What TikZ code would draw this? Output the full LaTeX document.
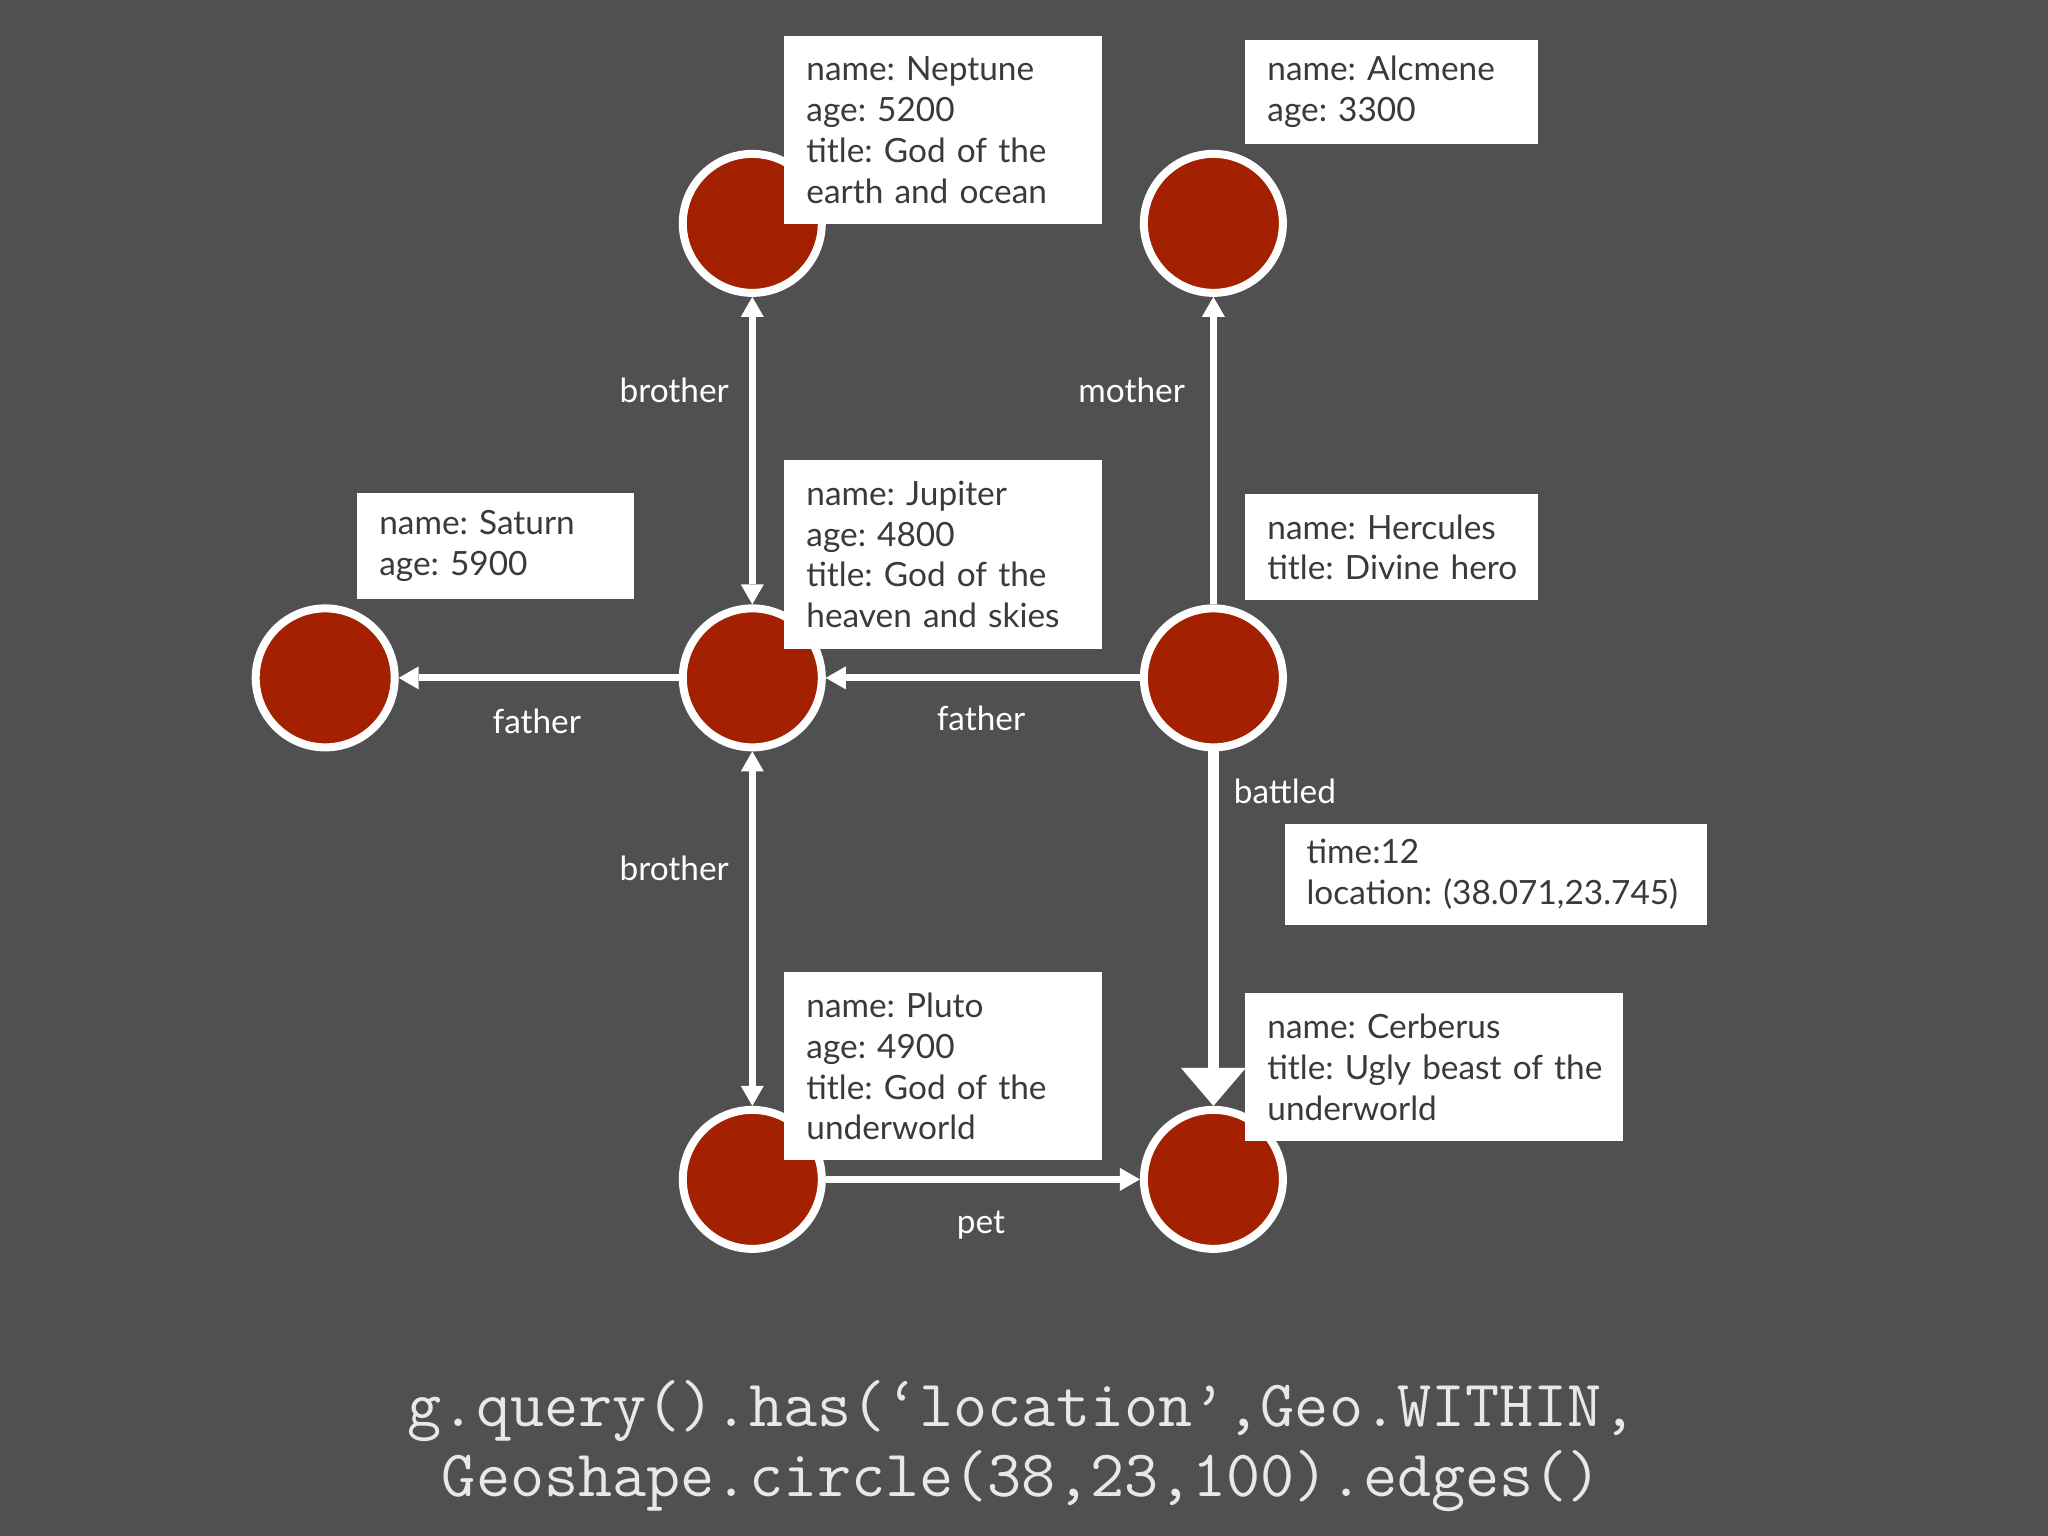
\documentclass[tikz,border=0pt]{standalone}
\usepackage{fontspec}
\setmainfont{Lato}
\usepackage{xcolor}
\usepackage{tikz}
\usetikzlibrary{arrows.meta}

\definecolor{fondo}{RGB}{80,80,82}
\definecolor{rojo}{RGB}{163,32,0}
\definecolor{tinta}{RGB}{58,58,60}
\definecolor{codigo}{RGB}{232,232,232}

\newcommand{\letra}{\fontsize{9.5pt}{11.6pt}\selectfont\frenchspacing}
\newcommand{\letracodigo}{\fontsize{18.85pt}{19.8pt}\selectfont\ttfamily}

\tikzset{
	vertex/.style={shape=circle, fill=rojo, draw=white, line width=0.08cm, minimum size=1.39cm, inner sep=0pt},
	infobox/.style={fill=white, text=tinta, font=\letra, anchor=north west, align=left, inner xsep=0.22cm, inner ysep=0pt, text width=#1},
	rel/.style={draw=white, line width=0.07cm},
	lbl/.style={text=white, font=\letra, inner sep=0pt}
}

\begin{document}
\begin{tikzpicture}[>={Triangle[width=0.23cm, length=0.2cm, line width=0pt]}]
	
	% Fondo
	\fill[fondo] (0,0) rectangle (20.48,15.36);
	
	% Nodos del grafo
	\node[vertex] (Neptune) at (7.523,13.126) {};
	\node[vertex] (Alcmene) at (12.134,13.126) {};
	\node[vertex] (Saturn) at (3.252,8.581) {};
	\node[vertex] (Jupiter) at (7.523,8.581) {};
	\node[vertex] (Hercules) at (12.134,8.581) {};
	\node[vertex] (Pluto) at (7.523,3.566) {};
	\node[vertex] (Cerberus) at (12.134,3.566) {};
	
	% Aristas
	\draw[rel, <->] (Neptune) -- node[lbl, left=0.2cm, pos=0.305] {brother} (Jupiter);
	\draw[rel, <->] (Jupiter) -- node[lbl, left=0.2cm, pos=0.33] {brother} (Pluto);
	\draw[rel, ->] (Hercules) -- node[lbl, left=0.25cm, pos=0.695] {mother} (Alcmene);
	\draw[rel, ->] (Jupiter) -- node[lbl, pos=0.507, yshift=-0.43cm] {father} (Saturn);
	\draw[rel, ->] (Hercules) -- node[lbl, pos=0.506, yshift=-0.405cm] {father} (Jupiter);
	\draw[rel, ->] (Pluto) -- node[lbl, pos=0.494, yshift=-0.46cm] {pet} (Cerberus);
	\draw[rel, line width=0.11cm, -{Triangle[width=0.65cm, length=0.38cm, line width=0pt]}] (Hercules) -- node[lbl, right=0.15cm, pos=0.114] {battled} (Cerberus);
	
	% Propiedades
	\node[infobox=2.733cm, minimum height=1.881cm] (InfoNeptune) at (7.837,15.007) {name: Neptune\\age: 5200\\title: God of the\\earth and ocean};
	\node[infobox=2.486cm, minimum height=1.045cm] (InfoAlcmene) at (12.447,14.968) {name: Alcmene\\age: 3300};
	\node[infobox=2.329cm, minimum height=1.058cm] (InfoSaturn) at (3.566,10.436) {name: Saturn\\age: 5900};
	\node[infobox=2.733cm, minimum height=1.881cm] (InfoJupiter) at (7.837,10.762) {name: Jupiter\\age: 4800\\title: God of the\\heaven and skies};
	\node[infobox=2.486cm, minimum height=1.058cm] (InfoHercules) at (12.447,10.423) {name: Hercules\\\mbox{title: Divine hero}};
	\node[infobox=3.779cm, minimum height=1.018cm] (InfoBattled) at (12.839,7.131) {time:12\\location: (38.071,23.745)};
	\node[infobox=2.733cm, minimum height=1.880cm] (InfoPluto) at (7.837,5.642) {name: Pluto\\age: 4900\\title: God of the\\underworld};
	\node[infobox=3.335cm, minimum height=1.476cm] (InfoCerberus) at (12.447,5.433) {name: Cerberus\\\mbox{title: Ugly beast of the}\\underworld};
	
	% Consulta
	\node[text=codigo, font=\letracodigo, align=center] (Query) at (10.22,0.90) {g.query().has(‘location’,Geo.WITHIN,\\Geoshape.circle(38,23,100).edges()};
	
\end{tikzpicture}
\end{document}
